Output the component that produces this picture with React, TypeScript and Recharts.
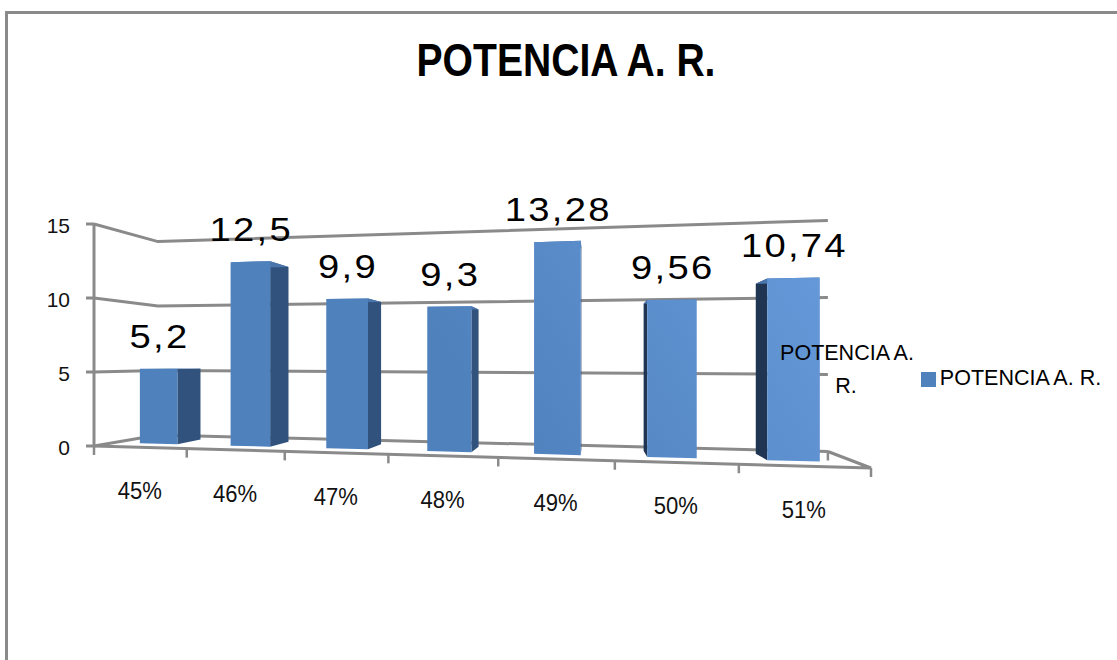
import { Bar, BarChart, CartesianGrid, LabelList, Legend, XAxis, YAxis } from 'recharts';

const categories = ['45%', '46%', '47%', '48%', '49%', '50%', '51%'];
const potencia = [5.2, 12.5, 9.9, 9.3, 13.28, 9.56, 10.74];
const yTicks = [0, 5, 10, 15];
const seriesName = 'POTENCIA A. R.';

const data = categories.map((category, i) => ({ category, potencia: potencia[i] }));

const FONT = '"Liberation Sans", Arial, sans-serif';
const GREY = '#8a8a8a';

// flat plot rectangle handed to recharts, warped to a 3D box when painted
const PLOT = { left: 100, top: 100, width: 700, height: 300 };
const CAT_W = PLOT.width / categories.length;
const UNIT_H = PLOT.height / 15;
const BAR_FRONT = 0.29;
const BAR_BACK = 0.7;

const toU = (px: number) => (px - PLOT.left) / CAT_W;
const toV = (py: number) => (PLOT.top + PLOT.height - py) / UNIT_H;

// u: category position, v: value, z: 0 at the front of the floor, 1 at the back wall
function project(u: number, v: number, z: number) {
  const w = 1 - 0.02667 * u + 0.1478 * z;
  return {
    x: (87.77 * u + 87.3 * z + 94) / w,
    y: (-9.34 * u - 14.8 * v + 53.3 * z + 446) / w,
  };
}

const pts = (list: { x: number; y: number }[]) => list.map((p) => `${p.x},${p.y}`).join(' ');

const GridLine = (props: any) => {
  const v = toV(props.y1);
  return (
    <polyline
      key={props.key ?? v}
      points={pts([project(0, v, 0), project(0, v, 1), project(7, v, 1)])}
      fill="none"
      stroke={GREY}
      strokeWidth={3}
    />
  );
};

const Bar3D = (props: any) => {
  const { x, y, width, height } = props;
  const u0 = toU(x);
  const u1 = toU(x + width);
  const v = toV(y);
  const v0 = toV(y + height);
  const quad = (a: number[], b: number[], c: number[], d: number[]) =>
    pts([a, b, c, d].map((p) => project(p[0], p[1], p[2])));

  const showLeft = project(u0, v, BAR_BACK).x < project(u0, v, BAR_FRONT).x;
  const showRight = project(u1, v, BAR_BACK).x > project(u1, v, BAR_FRONT).x;
  return (
    <g>
      {showLeft && (
        <polygon
          fill="#1f3552"
          points={quad([u0, v0, BAR_FRONT], [u0, v, BAR_FRONT], [u0, v, BAR_BACK], [u0, v0, BAR_BACK])}
        />
      )}
      {showRight && (
        <polygon
          fill="#31527c"
          points={quad([u1, v0, BAR_FRONT], [u1, v, BAR_FRONT], [u1, v, BAR_BACK], [u1, v0, BAR_BACK])}
        />
      )}
      <polygon
        fill="#4a76ad"
        points={quad([u0, v, BAR_FRONT], [u1, v, BAR_FRONT], [u1, v, BAR_BACK], [u0, v, BAR_BACK])}
      />
      <polygon
        fill="url(#faceFill)"
        points={quad([u0, v0, BAR_FRONT], [u1, v0, BAR_FRONT], [u1, v, BAR_FRONT], [u0, v, BAR_FRONT])}
      />
    </g>
  );
};

const ValueLabel = (props: any) => {
  const { x, y, width, value } = props;
  const p = project(toU(x + width / 2), toV(y), BAR_FRONT);
  return (
    <text
      transform={`translate(${p.x + 1} ${p.y - 21}) scale(1.14 1)`}
      textAnchor="middle"
      fontFamily={FONT}
      fontSize={33.5}
      letterSpacing={2}
      fill="#000"
    >
      {String(value).replace('.', ',')}
    </text>
  );
};

const YTick = (props: any) => {
  const v = props.payload.value;
  const p = project(0, v, 0);
  return (
    <g>
      <line x1={p.x - 8} y1={p.y} x2={p.x} y2={p.y} stroke={GREY} strokeWidth={3} />
      <text x={70} y={p.y + 9} textAnchor="end" fontFamily={FONT} fontSize={21} fill="#111">
        {v}
      </text>
    </g>
  );
};

const XTick = (props: any) => {
  const { x, index, payload } = props;
  const u = toU(x);
  const mid = project(u, 0, 0);
  const left = project(u - 0.5, 0, 0);
  const right = project(u + 0.5, 0, 0);
  const back = project(u + 0.5, 0, 1);
  return (
    <g>
      <line x1={left.x} y1={left.y} x2={left.x} y2={left.y + 9} stroke={GREY} strokeWidth={2.5} />
      {index === categories.length - 1 && (
        <>
          <line x1={right.x} y1={right.y} x2={right.x} y2={right.y + 9} stroke={GREY} strokeWidth={2.5} />
          <line x1={back.x} y1={back.y} x2={back.x} y2={back.y + 9} stroke={GREY} strokeWidth={2.5} />
        </>
      )}
      <text
        transform={`translate(${mid.x} ${mid.y + 52}) scale(0.92 1)`}
        textAnchor="middle"
        fontFamily={FONT}
        fontSize={24}
        fill="#111"
      >
        {payload.value}
      </text>
    </g>
  );
};

const floorFront = [project(0, 0, 0), project(7, 0, 0), project(7, 0, 1)];
const wallEdge = [project(0, 0, 0), project(0, 15, 0)];

export default function App() {
  return (
    <div style={{ position: 'absolute', left: 0, top: 0, width: 1117, height: 660, overflow: 'hidden', background: '#fff' }}>
      <div
        style={{
          position: 'absolute',
          left: 5,
          top: 11,
          width: 1112,
          height: 649,
          borderTop: `3px solid ${GREY}`,
          borderLeft: `3px solid ${GREY}`,
          boxSizing: 'border-box',
        }}
      />
      <BarChart
        width={1117}
        height={660}
        data={data}
        barCategoryGap="29%"
        margin={{
          left: PLOT.left - 1,
          top: PLOT.top,
          right: 1117 - PLOT.left - PLOT.width,
          bottom: 660 - PLOT.top - PLOT.height - 1,
        }}
        style={{ position: 'absolute', left: 0, top: 0 }}
      >
        <defs>
          <linearGradient id="faceFill" gradientUnits="userSpaceOnUse" x1={520} y1={470} x2={830} y2={270}>
            <stop offset="0%" stopColor="#4f81bd" />
            <stop offset="100%" stopColor="#6699d9" />
          </linearGradient>
        </defs>
        <text
          transform="translate(566 76) scale(0.85 1)"
          textAnchor="middle"
          fontFamily={FONT}
          fontWeight="bold"
          fontSize={46}
          fill="#000"
        >
          {seriesName}
        </text>
        <CartesianGrid vertical={false} horizontal={GridLine} />
        <polyline points={pts(floorFront)} fill="none" stroke={GREY} strokeWidth={3} />
        <polyline points={pts(wallEdge)} fill="none" stroke={GREY} strokeWidth={3} />
        <XAxis dataKey="category" height={1} axisLine={false} tickLine={false} tick={XTick} interval={0} />
        <YAxis type="number" domain={[0, 15]} ticks={yTicks} width={1} axisLine={false} tickLine={false} tick={YTick} />
        <Bar dataKey="potencia" name={seriesName} fill="#4f81bd" shape={Bar3D} isAnimationActive={false}>
          <LabelList dataKey="potencia" content={ValueLabel} />
        </Bar>
        <Legend
          layout="horizontal"
          align="center"
          verticalAlign="middle"
          iconType="square"
          iconSize={15}
          wrapperStyle={{ left: 915, top: 366, width: 202, right: 'auto', bottom: 'auto', fontFamily: FONT, fontSize: 21.5, textAlign: 'left' }}
          formatter={(value: string) => <span style={{ color: '#000' }}>{value}</span>}
        />
      </BarChart>
      {/* depth-axis caption sits over the last bar, so it gets its own layer above the chart */}
      <svg width={1117} height={660} style={{ position: 'absolute', left: 0, top: 0, pointerEvents: 'none' }}>
        <text x={847} y={360} textAnchor="middle" fontFamily={FONT} fontSize={21.5} fill="#000">
          POTENCIA A.
        </text>
        <text x={846} y={393} textAnchor="middle" fontFamily={FONT} fontSize={21.5} fill="#000">
          R.
        </text>
      </svg>
    </div>
  );
}
